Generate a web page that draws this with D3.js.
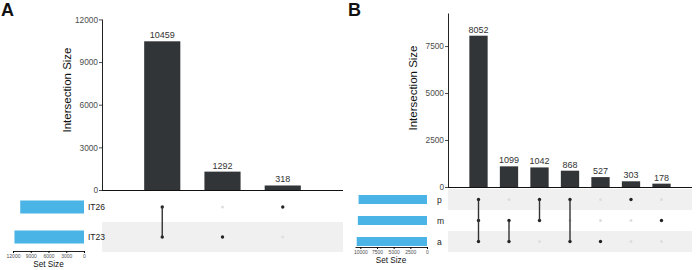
<!DOCTYPE html>
<html>
<head>
<meta charset="utf-8">
<script src="https://cdn.jsdelivr.net/npm/d3@7"></script>
<style>
  body { margin: 0; background: #fff; }
  svg { display: block; font-family: "Liberation Sans", Arial, Helvetica, sans-serif; }
  .tick text { fill: #4d4d4d; }
</style>
</head>
<body>
<svg id="chart" width="697" height="270"></svg>
<script>
// ---- panel A data
const setsA = ["IT26", "IT23"];               // matrix rows, top to bottom
const setSizesA = [10777, 11751];
const intersectionsA = [10459, 1292, 318];
const membersA = [["IT26", "IT23"], ["IT23"], ["IT26"]];
const yTicksA = [0, 3000, 6000, 9000, 12000];
const sizeTicksA = [12000, 9000, 6000, 3000, 0];

// ---- panel B data
const setsB = ["p", "m", "a"];
const setSizesB = [10265, 10371, 10546];
const intersectionsB = [8052, 1099, 1042, 868, 527, 303, 178];
const membersB = [["p", "m", "a"], ["m", "a"], ["p", "m"], ["p", "a"], ["a"], ["p"], ["m"]];
const yTicksB = [0, 2500, 5000, 7500];
const sizeTicksB = [10000, 7500, 5000, 2500, 0];

const barColor = "#323538";
const setColor = "#4bb4e6";
const shadeColor = "#f0f0f0";
const emptyDot = "#dedede";

const svg = d3.select("#chart");

function drawUpset(cfg) {
  const g = svg.append("g");

  // panel letter
  g.append("text")
    .attr("x", cfg.letterX).attr("y", 16)
    .attr("font-size", 18).attr("font-weight", "bold")
    .attr("fill", "#111")
    .text(cfg.letter);

  // intersection bars
  const x = d3.scaleBand()
    .domain(d3.range(cfg.values.length))
    .range([cfg.left, cfg.right])
    .paddingInner(0.4)
    .paddingOuter(0.7);

  const y = d3.scaleLinear()
    .domain([0, d3.max(cfg.values) * 1.15])
    .range([cfg.base, cfg.top]);

  const yAxis = d3.axisLeft(y)
    .tickValues(cfg.yTicks)
    .tickFormat(d3.format("d"))
    .tickSize(3)
    .tickPadding(1)
    .tickSizeOuter(0);

  const yAxisG = g.append("g")
    .attr("transform", `translate(${cfg.left},0)`)
    .call(yAxis);
  yAxisG.selectAll("text").attr("font-size", 8.3);
  yAxisG.selectAll(".tick line").attr("stroke", "#4d4d4d");
  yAxisG.select(".domain").attr("stroke", "#222");

  g.append("line")
    .attr("x1", cfg.left).attr("x2", cfg.right)
    .attr("y1", cfg.base + 0.5).attr("y2", cfg.base + 0.5)
    .attr("stroke", "#111").attr("stroke-width", 1.2);

  g.append("text")
    .attr("transform", `translate(${cfg.titleX},${cfg.titleY}) rotate(-90)`)
    .attr("text-anchor", "middle")
    .attr("font-size", 11.5)
    .attr("fill", "#111")
    .text("Intersection Size");

  g.selectAll(".bar")
    .data(cfg.values)
    .join("rect")
    .attr("x", (d, i) => x(i))
    .attr("width", x.bandwidth())
    .attr("y", d => y(d))
    .attr("height", d => cfg.base - y(d))
    .attr("fill", barColor);

  g.selectAll(".barlabel")
    .data(cfg.values)
    .join("text")
    .attr("x", (d, i) => x(i) + x.bandwidth() / 2)
    .attr("y", d => y(d) - 3)
    .attr("text-anchor", "middle")
    .attr("font-size", 9)
    .attr("fill", "#333")
    .text(d => d);

  // matrix
  const rowY = d3.scaleBand()
    .domain(cfg.sets)
    .range([cfg.matTop, cfg.matTop + cfg.rowH * cfg.sets.length]);

  const n = cfg.sets.length;
  g.selectAll(".shade")
    .data(cfg.sets.filter((s, i) => (n - 1 - i) % 2 === 0))
    .join("rect")
    .attr("x", cfg.left).attr("width", cfg.right - cfg.left)
    .attr("y", d => rowY(d)).attr("height", rowY.bandwidth())
    .attr("fill", shadeColor);

  const cy = s => rowY(s) + rowY.bandwidth() / 2;

  cfg.members.forEach((m, i) => {
    const cx = x(i) + x.bandwidth() / 2;
    cfg.sets.forEach(s => {
      const on = m.includes(s);
      g.append("circle")
        .attr("cx", cx).attr("cy", cy(s))
        .attr("r", on ? 1.7 : 1.5)
        .attr("fill", on ? "#222" : emptyDot);
    });
    if (m.length > 1) {
      const ys = m.map(cy);
      g.append("line")
        .attr("x1", cx).attr("x2", cx)
        .attr("y1", d3.min(ys)).attr("y2", d3.max(ys))
        .attr("stroke", "#333").attr("stroke-width", 1.4);
    }
  });

  // set labels
  g.selectAll(".setlabel")
    .data(cfg.sets)
    .join("text")
    .attr("x", cfg.labelX)
    .attr("y", d => cy(d) + 3)
    .attr("font-size", 8.5)
    .attr("fill", "#222")
    .text(d => d);

  // set size bars
  const sx = d3.scaleLinear()
    .domain(cfg.sizeDomain)
    .range([cfg.sizeRight, cfg.sizeLeft]);

  g.selectAll(".setbar")
    .data(cfg.sets)
    .join("rect")
    .attr("x", (d, i) => sx(cfg.sizes[i]))
    .attr("width", (d, i) => sx(0) - sx(cfg.sizes[i]))
    .attr("y", d => cy(d) - cfg.setBarH / 2)
    .attr("height", cfg.setBarH)
    .attr("fill", setColor);

  const sAxis = d3.axisBottom(sx)
    .tickValues(cfg.sizeTicks)
    .tickFormat(d3.format("d"))
    .tickSize(2)
    .tickPadding(1.5)
    .tickSizeOuter(0);

  const sAxisG = g.append("g")
    .attr("transform", `translate(0,${cfg.sizeAxisY})`)
    .call(sAxis);
  sAxisG.selectAll("text").attr("font-size", 5);
  sAxisG.select(".domain").attr("stroke", "#222");

  g.append("text")
    .attr("x", (cfg.sizeLeft + cfg.sizeRight) / 2)
    .attr("y", cfg.sizeAxisY + 16)
    .attr("text-anchor", "middle")
    .attr("font-size", 8.2)
    .attr("fill", "#111")
    .text("Set Size");
}

drawUpset({
  letter: "A", letterX: 1,
  values: intersectionsA, members: membersA, sets: setsA, sizes: setSizesA,
  yTicks: yTicksA, sizeTicks: sizeTicksA,
  left: 102, right: 343, top: 19, base: 190,
  titleX: 71, titleY: 90,
  matTop: 192, rowH: 30,
  labelX: 88,
  sizeDomain: [0, 12000], sizeLeft: 13, sizeRight: 84, setBarH: 13, sizeAxisY: 251
});

drawUpset({
  letter: "B", letterX: 348,
  values: intersectionsB, members: membersB, sets: setsB, sizes: setSizesB,
  yTicks: yTicksB, sizeTicks: sizeTicksB,
  left: 448, right: 692, top: 13, base: 187,
  titleX: 417, titleY: 88,
  matTop: 189, rowH: 21,
  labelX: 437,
  sizeDomain: [0, 10800], sizeLeft: 355, sizeRight: 427, setBarH: 9, sizeAxisY: 247
});
</script>
</body>
</html>
